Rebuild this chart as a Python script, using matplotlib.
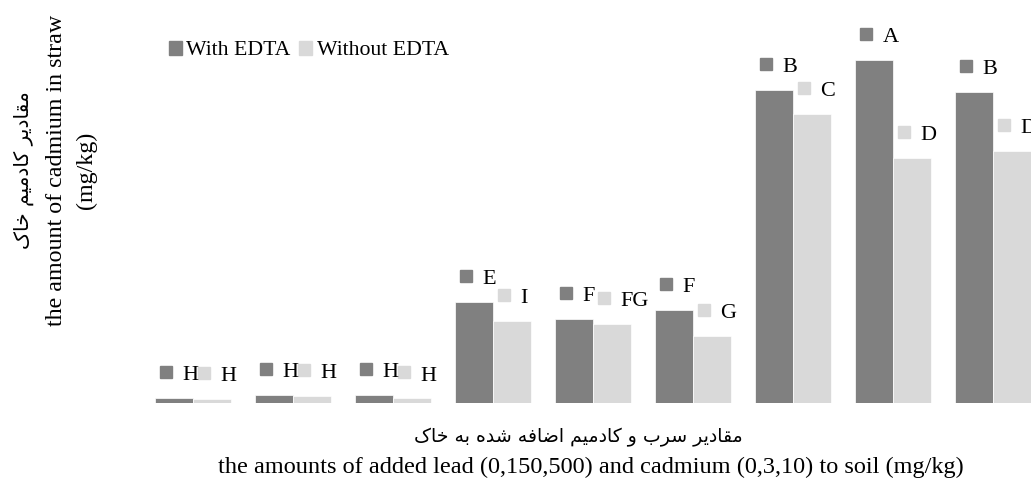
import matplotlib
matplotlib.use('Agg')
import matplotlib.pyplot as plt
from matplotlib.patches import Patch
from matplotlib.transforms import ScaledTranslation
import numpy as np

# treatments (9 combinations of added lead and cadmium)
treatments = ['1', '2', '3', '4', '5', '6', '7', '8', '9']
with_edta = [0.05, 0.08, 0.08, 1.01, 0.84, 0.93, 3.13, 3.43, 3.11]
without_edta = [0.045, 0.07, 0.047, 0.82, 0.79, 0.67, 2.89, 2.45, 2.52]
letters_with = ['H', 'H', 'H', 'E', 'F', 'F', 'B', 'A', 'B']
letters_without = ['H', 'H', 'H', 'I', 'FG', 'G', 'C', 'D', 'D']
series_names = ['With EDTA', 'Without EDTA']

ylabel_fa = 'مقادیر کادمیم خاک'
ylabel_en = 'the amount of cadmium in straw'
ylabel_unit = '(mg/kg)'
xlabel_fa = 'مقادیر سرب و کادمیم اضافه شده به خاک'
xlabel_en = 'the amounts of added lead (0,150,500) and cadmium (0,3,10) to soil (mg/kg)'

DARK = '#808080'
LIGHT = '#d9d9d9'

# persian letters -> (isolated, final, initial, medial)
FORMS = {
    'ا': ('\uFE8D', '\uFE8E', None, None),
    'ب': ('\uFE8F', '\uFE90', '\uFE91', '\uFE92'),
    'خ': ('\uFEA5', '\uFEA6', '\uFEA7', '\uFEA8'),
    'د': ('\uFEA9', '\uFEAA', None, None),
    'ر': ('\uFEAD', '\uFEAE', None, None),
    'س': ('\uFEB1', '\uFEB2', '\uFEB3', '\uFEB4'),
    'ش': ('\uFEB5', '\uFEB6', '\uFEB7', '\uFEB8'),
    'ض': ('\uFEBD', '\uFEBE', '\uFEBF', '\uFEC0'),
    'ف': ('\uFED1', '\uFED2', '\uFED3', '\uFED4'),
    'ق': ('\uFED5', '\uFED6', '\uFED7', '\uFED8'),
    'م': ('\uFEE1', '\uFEE2', '\uFEE3', '\uFEE4'),
    'ه': ('\uFEE9', '\uFEEA', '\uFEEB', '\uFEEC'),
    'و': ('\uFEED', '\uFEEE', None, None),
    'ک': ('\uFB8E', '\uFB8F', '\uFB90', '\uFB91'),
    'ی': ('\uFBFC', '\uFBFD', '\uFBFE', '\uFBFF'),
}


def shape_fa(s):
    # matplotlib has no arabic shaping, so pick the joined forms by hand
    out = []
    for i, c in enumerate(s):
        if c not in FORMS:
            out.append(c)
            continue
        prev = s[i - 1] if i > 0 else ''
        nxt = s[i + 1] if i + 1 < len(s) else ''
        jp = prev in FORMS and FORMS[prev][2] is not None
        jn = FORMS[c][2] is not None and nxt in FORMS
        if jp and jn:
            out.append(FORMS[c][3])
        elif jp:
            out.append(FORMS[c][1])
        elif jn:
            out.append(FORMS[c][2])
        else:
            out.append(FORMS[c][0])
    return ''.join(reversed(out))


plt.rcParams['font.family'] = ['Liberation Serif', 'DejaVu Sans']
plt.rcParams['font.size'] = 16

W, H = 1031, 480
fig = plt.figure(figsize=(W / 100, H / 100), dpi=100)
# plot area runs past the right edge, like the cropped original
ax = fig.add_axes([143 / W, 77 / H, 900 / W, 383 / H])

x = np.arange(len(treatments))
bw = 0.38
ax.bar(x - bw / 2, with_edta, bw, color=DARK, edgecolor='white', linewidth=0.5)
ax.bar(x + bw / 2, without_edta, bw, color=LIGHT, edgecolor='white', linewidth=0.5)

ax.set_xlim(-0.5, len(treatments) - 0.5)
ax.set_ylim(0, 3.83)
ax.axis('off')

# data labels: coloured key square + letter
key_shift = ax.transData + ScaledTranslation(-8 / 100, 26 / 100, fig.dpi_scale_trans)
for vals, labs, off, col in [(with_edta, letters_with, -bw / 2, DARK),
                             (without_edta, letters_without, bw / 2, LIGHT)]:
    for xi, v, lab in zip(x, vals, labs):
        ax.plot([xi + off], [v], marker='s', ms=8.5, color=col, linestyle='none',
                transform=key_shift, clip_on=False)
        ax.annotate(lab, xy=(xi + off, v), xytext=(6, 16), textcoords='offset points',
                    ha='left', va='center', fontsize=16, annotation_clip=False)

handles = [Patch(color=DARK), Patch(color=LIGHT)]
fig.legend(handles, series_names, loc='upper left', bbox_to_anchor=(160 / W, 1 - 32 / H),
           ncol=2, frameon=False, handlelength=0.6, handleheight=0.6,
           handletextpad=0.2, columnspacing=0.4, borderaxespad=0, fontsize=15.7)

fig.text(24 / W, 1 - 170 / H, shape_fa(ylabel_fa), rotation=90, ha='center', va='center',
         family='DejaVu Sans', fontsize=14.5)
fig.text(57 / W, 1 - 170 / H, ylabel_en, rotation=90, ha='center', va='center', fontsize=17.3)
fig.text(86 / W, 1 - 170 / H, ylabel_unit, rotation=90, ha='center', va='center', fontsize=17.3)

fig.text(578 / W, 1 - 437 / H, shape_fa(xlabel_fa), ha='center', va='center',
         family='DejaVu Sans', fontsize=13.6)
fig.text(591 / W, 1 - 467 / H, xlabel_en, ha='center', va='center', fontsize=17.5)

fig.savefig('out.png', dpi=100)
